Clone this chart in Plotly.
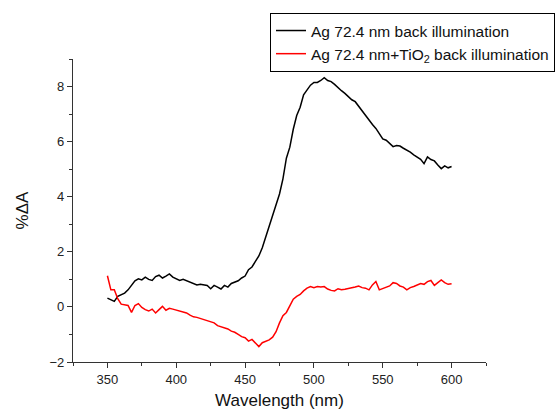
import numpy as np
import plotly.graph_objects as go

# Wavelength grid (nm), 2.5 nm step
wavelength = np.arange(350, 600.01, 2.5)

# %ΔA, Ag 72.4 nm film, back illumination
ag_back = [
    0.32, 0.25, 0.20, 0.38, 0.45, 0.50, 0.62, 0.78, 0.95, 1.02,
    0.98, 1.08, 1.00, 0.96, 1.10, 1.15, 1.05, 1.12, 1.20, 1.08,
    1.02, 0.96, 1.00, 0.95, 0.88, 0.85, 0.80, 0.82, 0.80, 0.78,
    0.66, 0.78, 0.72, 0.65, 0.78, 0.72, 0.85, 0.90, 0.95, 1.05,
    1.12, 1.35, 1.45, 1.65, 1.85, 2.15, 2.55, 2.90, 3.30, 3.70,
    4.10, 4.65, 5.40, 5.80, 6.45, 6.95, 7.25, 7.70, 7.90, 8.05,
    8.15, 8.15, 8.22, 8.32, 8.22, 8.18, 8.08, 7.95, 7.85, 7.75,
    7.62, 7.52, 7.45, 7.28, 7.12, 6.98, 6.80, 6.62, 6.48, 6.28,
    6.10, 6.05, 5.92, 5.82, 5.86, 5.84, 5.76, 5.70, 5.62, 5.52,
    5.45, 5.36, 5.20, 5.45, 5.35, 5.30, 5.15, 5.02, 5.12, 5.05,
    5.10,
]

# %ΔA, Ag 72.4 nm + TiO2, back illumination
ag_tio2_back = [
    1.13, 0.62, 0.62, 0.30, 0.10, 0.08, 0.05, -0.20, 0.05, 0.12,
    -0.02, -0.10, -0.15, -0.08, -0.22, -0.10, 0.02, -0.12, -0.05, -0.08,
    -0.12, -0.16, -0.18, -0.22, -0.30, -0.36, -0.38, -0.42, -0.45, -0.48,
    -0.52, -0.58, -0.68, -0.72, -0.76, -0.80, -0.88, -0.92, -1.00, -1.08,
    -1.12, -1.24, -1.18, -1.32, -1.44, -1.30, -1.26, -1.20, -1.10, -0.90,
    -0.58, -0.32, -0.20, 0.05, 0.28, 0.38, 0.45, 0.58, 0.68, 0.74,
    0.70, 0.74, 0.72, 0.74, 0.65, 0.60, 0.58, 0.66, 0.62, 0.64,
    0.66, 0.70, 0.72, 0.76, 0.70, 0.68, 0.62, 0.80, 0.92, 0.62,
    0.66, 0.70, 0.76, 0.88, 0.85, 0.76, 0.72, 0.62, 0.70, 0.74,
    0.80, 0.85, 0.82, 0.92, 0.96, 0.78, 0.88, 0.98, 0.88, 0.82,
    0.84,
]

x_ticks = [350, 400, 450, 500, 550, 600]
y_ticks = [-2, 0, 2, 4, 6, 8]

fig = go.Figure()
fig.add_trace(go.Scatter(
    x=wavelength, y=ag_back, mode="lines",
    name="Ag 72.4 nm back illumination",
    line=dict(color="black", width=1.5),
))
fig.add_trace(go.Scatter(
    x=wavelength, y=ag_tio2_back, mode="lines",
    name="Ag 72.4 nm+TiO<sub>2</sub> back illumination",
    line=dict(color="#ff0000", width=1.5),
))

axis_common = dict(
    showline=True, linecolor="#333333", linewidth=1.3,
    ticks="outside", ticklen=5, tickwidth=1.2, tickcolor="#333333",
    showgrid=False, zeroline=False, mirror=False, automargin=False,
    tickfont=dict(family="Liberation Sans, Arial", size=13, color="#222222"),
)

fig.update_layout(
    width=560, height=412,
    margin=dict(l=73, r=74, t=59, b=50, autoexpand=False),
    paper_bgcolor="white", plot_bgcolor="white",
    font=dict(family="Liberation Sans, Arial", color="#111111"),
    xaxis=dict(
        range=[325, 625], tickvals=x_ticks,
        minor=dict(dtick=25, tick0=325, ticks="outside", ticklen=3,
                   tickwidth=1.2, tickcolor="#333333"),
        title=dict(text="Wavelength (nm)", font=dict(size=17), standoff=8),
        **axis_common,
    ),
    yaxis=dict(
        range=[-2, 9], tickvals=y_ticks,
        minor=dict(dtick=1, tick0=-2, ticks="outside", ticklen=3,
                   tickwidth=1.2, tickcolor="#333333"),
        title=dict(text="%ΔA", font=dict(size=17), standoff=16),
        **axis_common,
    ),
    legend=dict(
        x=0.477, y=1.152, xanchor="left", yanchor="top",
        bgcolor="white", bordercolor="black", borderwidth=1,
        font=dict(family="Liberation Sans, Arial", size=15.5, color="#111111"),
        tracegroupgap=0, itemwidth=30,
    ),
    showlegend=True,
)

fig.write_html("out.html")
